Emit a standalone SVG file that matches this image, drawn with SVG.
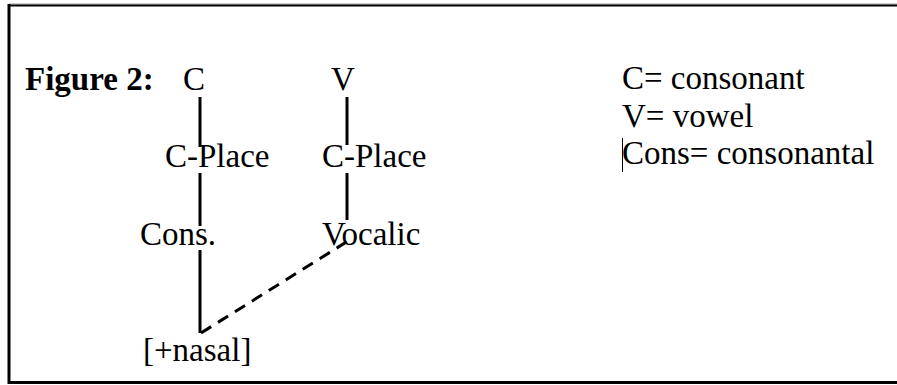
<svg xmlns="http://www.w3.org/2000/svg" width="897" height="385" viewBox="0 0 897 385">
<style>
text{font-family:"Liberation Serif","Times New Roman",serif;font-size:33px;fill:#000}
.b{font-weight:bold}
.ln{stroke:#000;stroke-width:3;fill:none}
.dash{stroke:#000;stroke-width:3;fill:none;stroke-dasharray:12,8}
</style>
<rect width="897" height="385" fill="#fff"/>
<g id="frame">
<line x1="9" y1="4" x2="897" y2="4" stroke="#999" stroke-width="1"/>
<line x1="9" y1="5.5" x2="897" y2="5.5" stroke="#000" stroke-width="2"/>
<line x1="9" y1="4" x2="9" y2="384" stroke="#000" stroke-width="3"/>
<line x1="8" y1="382.5" x2="897" y2="382.5" stroke="#000" stroke-width="3"/>
</g>
<g id="title"><text class="b" x="25" y="90">Figure 2:</text></g>
<g id="connectors">
<line class="ln" x1="200" y1="97" x2="200" y2="147"/>
<line class="ln" x1="200" y1="173" x2="200" y2="226"/>
<line class="ln" x1="200" y1="250" x2="200" y2="333"/>
<line class="ln" x1="347" y1="97" x2="347" y2="145"/>
<line class="ln" x1="347" y1="173" x2="347" y2="220"/>
<line class="dash" x1="201" y1="333" x2="348" y2="241"/>
</g>
<g id="nodeC"><text x="183" y="90">C</text></g>
<g id="nodeV"><text x="331" y="90">V</text></g>
<g id="nodeCPlace1"><text x="165" y="167">C-Place</text></g>
<g id="nodeCPlace2"><text x="322" y="167">C-Place</text></g>
<g id="nodeCons"><text x="140" y="245">Cons.</text></g>
<g id="nodeVocalic"><text x="322" y="245">Vocalic</text></g>
<g id="nodeNasal"><text x="143" y="361">[+nasal]</text></g>
<g id="legend">
<text x="622" y="89">C= consonant</text>
<text x="622" y="127">V= vowel</text>
<text x="622" y="164">Cons= consonantal</text>
<line x1="622.5" y1="138" x2="622.5" y2="172" stroke="#000" stroke-width="1"/>
</g>
</svg>
